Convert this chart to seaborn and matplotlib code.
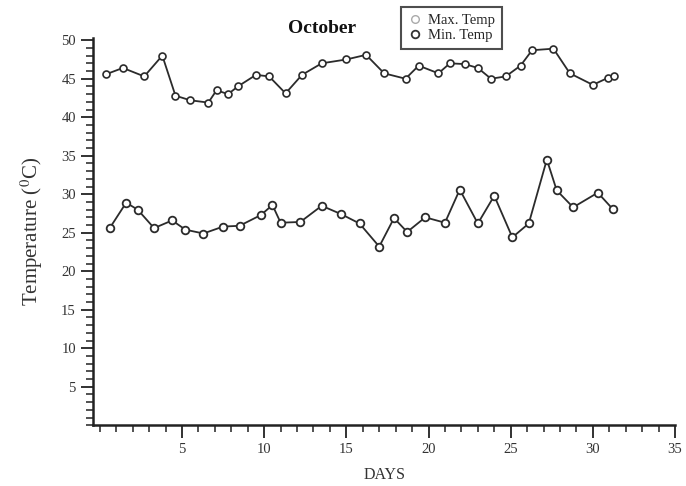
import numpy as np
import pandas as pd
import matplotlib
matplotlib.use("Agg")
import matplotlib.pyplot as plt
from matplotlib.lines import Line2D
from matplotlib.ticker import MultipleLocator
import seaborn as sns

# October daily temperatures
max_days = [0.4, 1.4, 2.7, 3.8, 4.6, 5.5, 6.6, 7.1, 7.8, 8.4, 9.5, 10.3, 11.3,
            12.3, 13.5, 15.0, 16.2, 17.3, 18.6, 19.4, 20.6, 21.3, 22.2, 23.0,
            23.8, 24.7, 25.6, 26.3, 27.6, 28.6, 30.0, 30.9, 31.3]
max_temp = [45.6, 46.4, 45.3, 48.0, 42.8, 42.2, 41.9, 43.5, 43.0, 44.0, 45.5,
            45.3, 43.1, 45.5, 47.0, 47.5, 48.1, 45.7, 45.0, 46.7, 45.7, 47.0,
            46.9, 46.4, 45.0, 45.3, 46.7, 48.7, 48.9, 45.7, 44.2, 45.1, 45.4]

min_days = [0.6, 1.6, 2.3, 3.3, 4.4, 5.2, 6.3, 7.5, 8.5, 9.8, 10.5, 11.0, 12.2,
            13.5, 14.7, 15.8, 17.0, 17.9, 18.7, 19.8, 21.0, 21.9, 23.0, 24.0,
            25.1, 26.1, 27.2, 27.8, 28.8, 30.3, 31.2]
min_temp = [25.6, 28.9, 28.0, 25.6, 26.6, 25.4, 24.9, 25.8, 25.9, 27.3, 28.6,
            26.3, 26.4, 28.5, 27.4, 26.2, 23.2, 26.9, 25.1, 27.0, 26.3, 30.6,
            26.2, 29.8, 24.4, 26.2, 34.5, 30.5, 28.3, 30.2, 28.1]

sns.set_style("ticks")
plt.rcParams['font.family'] = ['Liberation Serif', 'DejaVu Serif']
plt.rcParams['mathtext.fontset'] = 'stix'

fig = plt.figure(figsize=(6.86, 4.86), dpi=100)
ax = fig.add_axes([0.136, 0.125, 0.848, 0.797])

line_col = '#2b2b2b'
df_max = pd.DataFrame({'day': max_days, 'temp': max_temp})
df_min = pd.DataFrame({'day': min_days, 'temp': min_temp})

sns.lineplot(data=df_max, x='day', y='temp', ax=ax, color=line_col, lw=1.3,
             marker='o', markersize=5, markerfacecolor='white',
             markeredgecolor=line_col, markeredgewidth=1.2, estimator=None)
sns.lineplot(data=df_min, x='day', y='temp', ax=ax, color=line_col, lw=1.3,
             marker='o', markersize=5.5, markerfacecolor='white',
             markeredgecolor=line_col, markeredgewidth=1.3, estimator=None)

ax.set_xlim(-0.4, 35)
ax.set_ylim(0, 50.3)
ax.xaxis.set_minor_locator(MultipleLocator(1))
ax.yaxis.set_minor_locator(MultipleLocator(1))
ax.set_xticks([5, 10, 15, 20, 25, 30, 35])
ax.set_yticks([5, 10, 15, 20, 25, 30, 35, 40, 45, 50])

ax.tick_params(which='major', direction='out', length=9, width=1.3,
               colors='#222222', labelsize=10.5, labelcolor='#333333')
ax.tick_params(which='minor', direction='out', length=5, width=1.1,
               colors='#222222')
for s in ['left', 'bottom']:
    ax.spines[s].set_linewidth(1.8)
    ax.spines[s].set_color('#222222')
sns.despine(ax=ax)

ax.set_xlabel('DAYS', fontsize=11.5, color='#333333', labelpad=8)
ax.set_ylabel('Temperature ($^{0}$C)', fontsize=15, color='#333333', labelpad=12)

fig.text(0.469, 0.942, 'October', fontsize=14, fontweight='bold',
         ha='center', va='center', color='#111111')

handles = [
    Line2D([], [], linestyle='none', marker='o', markersize=5.5,
           markerfacecolor='white', markeredgecolor='#aaaaaa',
           markeredgewidth=1.0),
    Line2D([], [], linestyle='none', marker='o', markersize=5.5,
           markerfacecolor='white', markeredgecolor='#333333',
           markeredgewidth=1.3),
]
leg = fig.legend(handles, ['Max. Temp', 'Min. Temp'], loc='upper left',
                 bbox_to_anchor=(0.574, 1.0), fontsize=10.5, frameon=True,
                 fancybox=False, edgecolor='#222222', handlelength=1.0,
                 handletextpad=0.4, labelspacing=0.15, borderpad=0.45)
leg.get_frame().set_linewidth(1.5)

fig.savefig('out.png', dpi=100)
